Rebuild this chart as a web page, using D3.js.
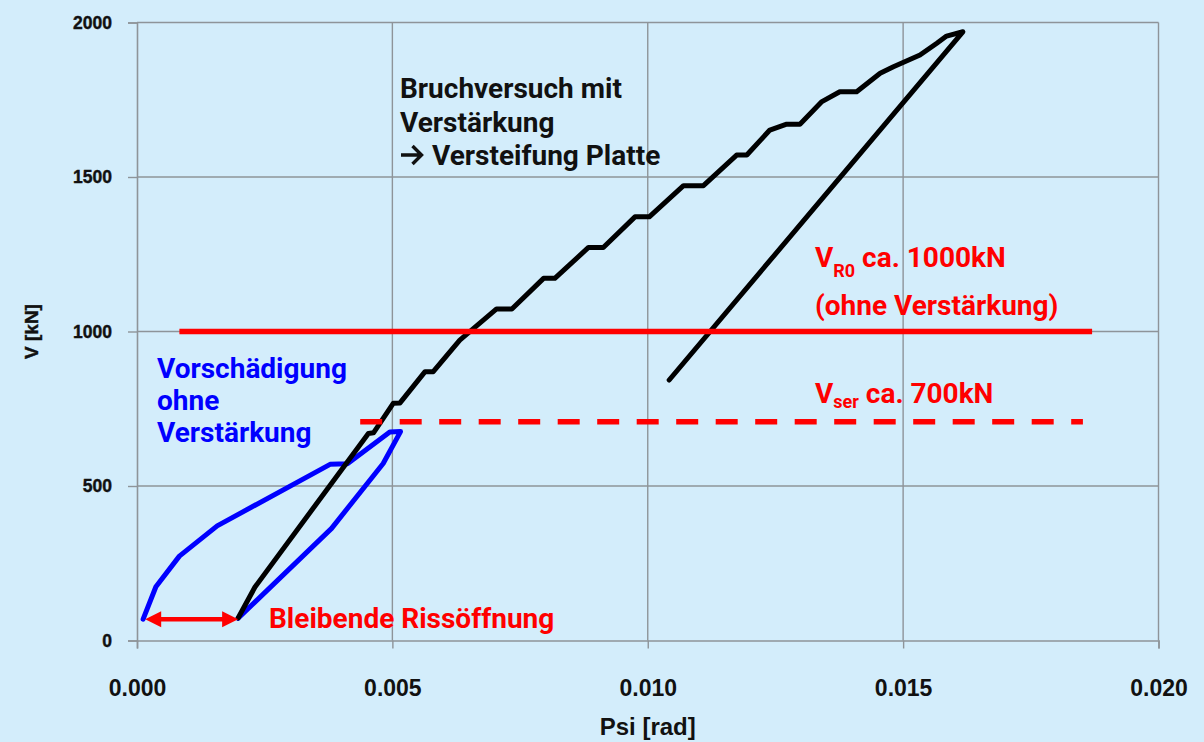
<!DOCTYPE html>
<html>
<head>
<meta charset="utf-8">
<script src="https://cdn.jsdelivr.net/npm/d3@7"></script>
<style>
  html, body { margin: 0; padding: 0; background: #d3edfb; }
  svg { display: block; }
</style>
</head>
<body>
<svg id="chart" width="1204" height="742"></svg>
<script>
// Axis ticks: rotation Psi [rad] and shear force V [kN]
const xTicks = [0, 0.005, 0.010, 0.015, 0.020];
const yTicks = [0, 500, 1000, 1500, 2000];

// Pre-damage cycle without strengthening (loading, then unloading)
const preDamagePsi = [0.00012, 0.00037, 0.00083, 0.00157, 0.00378, 0.00412, 0.00495, 0.00516, 0.00482, 0.00381, 0.00198];
const preDamageV   = [69, 174, 273, 371, 570, 572, 675, 676, 573, 363, 72];

// Failure test with strengthening (loading up to failure, then unloading)
const failurePsi = [0.00198, 0.00231, 0.00453, 0.00463, 0.00502, 0.00515, 0.00564, 0.00580, 0.00632,
                    0.00704, 0.00734, 0.00796, 0.00818, 0.00884, 0.00913, 0.00975, 0.01003,
                    0.01070, 0.01109, 0.01174, 0.01194, 0.01239, 0.01272, 0.01298, 0.01341,
                    0.01376, 0.01409, 0.01455, 0.01481, 0.01533, 0.01566, 0.01585, 0.01617, 0.01042];
const failureV   = [73, 173, 670, 672, 768, 769, 870, 870, 972,
                    1073, 1073, 1172, 1172, 1272, 1272, 1371, 1371,
                    1472, 1472, 1571, 1571, 1652, 1671, 1671, 1744,
                    1776, 1776, 1836, 1857, 1895, 1933, 1956, 1970, 843];

// Reference levels
const resistanceV = 1000;                 // V_R0 without strengthening
const resistancePsi = [0.00083, 0.01870];
const serviceV = 708;                     // V_ser
const servicePsi = [0.00437, 0.01852];

// Residual crack opening after the pre-damage cycle
const residualPsi = [0.00016, 0.00198];
const residualV = 69;

const svg = d3.select("#chart");
const W = 1204, H = 742;
const m = { left: 137, right: W - 1158.5, top: 22.5, bottom: H - 640.5 };

svg.append("rect").attr("width", W).attr("height", H).attr("fill", "#d3edfb");

const x = d3.scaleLinear().domain([0, 0.02]).range([m.left, W - m.right]);
const y = d3.scaleLinear().domain([0, 2000]).range([H - m.bottom, m.top]);

const gridColor = "#8e9499";

// Grid
const grid = svg.append("g");
grid.selectAll("line.h").data(yTicks.slice(1)).join("line")
  .attr("x1", x(0)).attr("x2", x(0.02))
  .attr("y1", d => y(d)).attr("y2", d => y(d))
  .attr("stroke", gridColor).attr("stroke-width", 1.4);
grid.selectAll("line.v").data(xTicks.slice(1)).join("line")
  .attr("x1", d => x(d)).attr("x2", d => x(d))
  .attr("y1", y(0)).attr("y2", y(2000))
  .attr("stroke", gridColor).attr("stroke-width", 1.4);

// Axes
const yAxis = svg.append("g")
  .attr("transform", `translate(${x(0)},0)`)
  .call(d3.axisLeft(y).tickValues(yTicks).tickSize(9).tickPadding(16).tickFormat(d3.format("d")));
yAxis.select(".domain").attr("stroke", gridColor).attr("stroke-width", 1.6);
yAxis.selectAll(".tick line").attr("stroke", gridColor).attr("stroke-width", 1.4);
yAxis.selectAll(".tick text")
  .attr("font-family", "Liberation Sans").attr("font-weight", "bold")
  .attr("font-size", 17.5).attr("fill", "#111")
  .attr("stroke", "#111").attr("stroke-width", 0.4);

const xAxis = svg.append("g")
  .attr("transform", `translate(0,${y(0)})`)
  .call(d3.axisBottom(x).tickValues(xTicks).tickSize(8).tickPadding(0).tickFormat(d3.format(".3f")));
xAxis.select(".domain").attr("stroke", gridColor).attr("stroke-width", 1.6);
xAxis.selectAll(".tick line").attr("stroke", gridColor).attr("stroke-width", 1.4);
xAxis.selectAll(".tick text")
  .attr("font-family", "Liberation Sans").attr("font-weight", "bold")
  .attr("font-size", 23).attr("fill", "#111")
  .attr("dy", null).attr("y", 55);

// Axis titles
svg.append("text")
  .attr("x", x(0.01)).attr("y", 735)
  .attr("text-anchor", "middle")
  .attr("font-family", "Liberation Sans").attr("font-weight", "bold")
  .attr("font-size", 24).attr("fill", "#111")
  .text("Psi [rad]");
svg.append("text")
  .attr("transform", `translate(38,${y(1000)}) rotate(-90)`)
  .attr("text-anchor", "middle")
  .attr("font-family", "Liberation Sans").attr("font-weight", "bold")
  .attr("font-size", 19).attr("fill", "#111")
  .attr("stroke", "#111").attr("stroke-width", 0.4)
  .text("V [kN]");

// Curves
const line = d3.line().x(d => x(d[0])).y(d => y(d[1]));
const preDamage = preDamagePsi.map((p, i) => [p, preDamageV[i]]);
const failure = failurePsi.map((p, i) => [p, failureV[i]]);

svg.append("path").attr("d", line(preDamage))
  .attr("fill", "none").attr("stroke", "#0000ff").attr("stroke-width", 5)
  .attr("stroke-linejoin", "round").attr("stroke-linecap", "round");
svg.append("path").attr("d", line(failure))
  .attr("fill", "none").attr("stroke", "#000").attr("stroke-width", 5)
  .attr("stroke-linejoin", "round").attr("stroke-linecap", "round");

// Reference lines
svg.append("line")
  .attr("x1", x(resistancePsi[0])).attr("x2", x(resistancePsi[1]))
  .attr("y1", y(resistanceV)).attr("y2", y(resistanceV))
  .attr("stroke", "#ff0000").attr("stroke-width", 5.5);
svg.append("line")
  .attr("x1", x(servicePsi[0])).attr("x2", x(servicePsi[1]))
  .attr("y1", y(serviceV)).attr("y2", y(serviceV))
  .attr("stroke", "#ff0000").attr("stroke-width", 5.5)
  .attr("stroke-dasharray", "22 17.5");

// Double arrow for residual crack opening
const ax1 = x(residualPsi[0]), ax2 = x(residualPsi[1]), ay = y(residualV);
const headL = 16, headW = 8;
svg.append("line")
  .attr("x1", ax1 + headL - 2).attr("x2", ax2 - headL + 2)
  .attr("y1", ay).attr("y2", ay)
  .attr("stroke", "#ff0000").attr("stroke-width", 4.5);
svg.append("path")
  .attr("d", `M${ax1},${ay} L${ax1 + headL},${ay - headW} L${ax1 + headL},${ay + headW} Z`)
  .attr("fill", "#ff0000");
svg.append("path")
  .attr("d", `M${ax2},${ay} L${ax2 - headL},${ay - headW} L${ax2 - headL},${ay + headW} Z`)
  .attr("fill", "#ff0000");

// Annotations
const font = "Roboto";
const fs = 28;
function block(lines, x0, y0, step, color) {
  const t = svg.append("text")
    .attr("font-family", font).attr("font-weight", "bold")
    .attr("font-size", fs).attr("fill", color);
  lines.forEach((s, i) => t.append("tspan").attr("x", x0).attr("y", y0 + i * step).text(s));
  return t;
}
block(["Bruchversuch mit", "Verstärkung"], 400, 98, 33.5, "#111");

// "→ Versteifung Platte": arrow drawn as a stroked glyph, then the text
const arrowBase = 165, arrowMid = arrowBase - 10;
svg.append("path")
  .attr("d", `M401,${arrowMid} H421 M412.5,${arrowMid - 9} L421.5,${arrowMid} L412.5,${arrowMid + 9}`)
  .attr("fill", "none").attr("stroke", "#111").attr("stroke-width", 3.4)
  .attr("stroke-linejoin", "miter");
svg.append("text").attr("x", 432).attr("y", arrowBase)
  .attr("font-family", font).attr("font-weight", "bold")
  .attr("font-size", fs).attr("fill", "#111")
  .text("Versteifung Platte");

block(["Vorschädigung", "ohne", "Verstärkung"], 157, 378, 32, "#0000ff");
block(["Bleibende Rissöffnung"], 269, 628, 0, "#ff0000");
block(["(ohne Verstärkung)"], 815, 315, 0, "#ff0000");

function subLabel(sub, rest, x0, y0, dy) {
  const t = svg.append("text").attr("x", x0).attr("y", y0)
    .attr("font-family", font).attr("font-weight", "bold")
    .attr("font-size", fs).attr("fill", "#ff0000");
  t.append("tspan").text("V");
  t.append("tspan").attr("font-size", 18).attr("dy", dy).text(sub);
  t.append("tspan").attr("dy", -dy).text(" " + rest);
}
subLabel("R0", "ca. 1000kN", 815, 267, 10);
subLabel("ser", "ca. 700kN", 815, 403, 5);
</script>
</body>
</html>
